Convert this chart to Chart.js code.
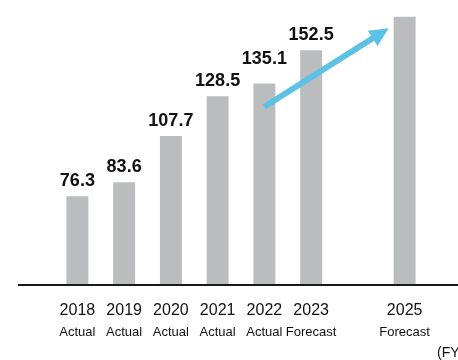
<!DOCTYPE html>
<html>
<head>
<meta charset="utf-8">
<script src="https://cdn.jsdelivr.net/npm/chart.js@4.4.1/dist/chart.umd.min.js"></script>
<style>
  html, body { margin: 0; padding: 0; background: #fff; overflow: hidden; }
  #wrap { width: 458px; height: 360px; position: relative; }
</style>
</head>
<body>
<div id="wrap"><canvas id="c"></canvas></div>
<script>
// ---- data ----
const years    = ['2018', '2019', '2020', '2021', '2022', '2023', '', '2025'];
const statuses = ['Actual', 'Actual', 'Actual', 'Actual', 'Actual', 'Forecast', '', 'Forecast'];
const values   = [76.3, 83.6, 107.7, 128.5, 135.1, 152.5, null, 170];
const showValueLabel = [true, true, true, true, true, true, false, false];
const unitLabel = '(FY)';
// arrow annotation in data space (category index, value)
const arrowStart = [4, 123];
const arrowEnd   = [6.66, 164];

const BAR = '#bbbcbe';
const ARROW = '#5bc2e6';
const INK = '#111111';
const FONT = '"Liberation Sans", Arial, sans-serif';

const overlay = {
  id: 'overlay',
  afterDatasetsDraw(chart) {
    const ctx = chart.ctx;
    const xs = chart.scales.x, ys = chart.scales.y;
    const meta = chart.getDatasetMeta(0);
    // baseline
    const by = ys.getPixelForValue(ys.min);
    ctx.save();
    ctx.strokeStyle = '#1a1a1a';
    ctx.lineWidth = 2;
    ctx.beginPath();
    ctx.moveTo(18, by);
    ctx.lineTo(chart.width, by);
    ctx.stroke();

    // value labels
    ctx.fillStyle = INK;
    ctx.font = 'bold 18px ' + FONT;
    ctx.textAlign = 'center';
    ctx.textBaseline = 'alphabetic';
    meta.data.forEach((bar, i) => {
      if (!showValueLabel[i] || values[i] == null) return;
      const lift = (i === 4) ? 20 : 10;
      ctx.fillText(values[i].toFixed(1), bar.x, bar.y - lift);
    });

    // arrow
    const x1 = xs.getPixelForValue(arrowStart[0]), y1 = ys.getPixelForValue(arrowStart[1]);
    const x2 = xs.getPixelForValue(arrowEnd[0]),   y2 = ys.getPixelForValue(arrowEnd[1]);
    const ang = Math.atan2(y2 - y1, x2 - x1);
    const headLen = 19, headW = 9;
    const bx = x2 - headLen * Math.cos(ang), byy = y2 - headLen * Math.sin(ang);
    ctx.strokeStyle = ARROW;
    ctx.fillStyle = ARROW;
    ctx.lineWidth = 6;
    ctx.lineCap = 'butt';
    ctx.beginPath();
    ctx.moveTo(x1, y1);
    ctx.lineTo(bx + 2 * Math.cos(ang), byy + 2 * Math.sin(ang));
    ctx.stroke();
    ctx.beginPath();
    ctx.moveTo(x2, y2);
    ctx.lineTo(bx - headW * Math.sin(ang), byy + headW * Math.cos(ang));
    ctx.lineTo(bx + headW * Math.sin(ang), byy - headW * Math.cos(ang));
    ctx.closePath();
    ctx.fill();

    // unit label
    ctx.fillStyle = INK;
    ctx.font = '14px ' + FONT;
    ctx.textAlign = 'left';
    ctx.textBaseline = 'middle';
    ctx.fillText(unitLabel, 437, 353);
    ctx.restore();
  }
};

new Chart(document.getElementById('c'), {
  type: 'bar',
  data: {
    labels: years,
    datasets: [{
      data: values,
      backgroundColor: BAR,
      borderWidth: 0,
      categoryPercentage: 1,
      barPercentage: 0.47
    }]
  },
  options: {
    responsive: true,
    maintainAspectRatio: false,
    animation: false,
    events: [],
    layout: { padding: { left: 54, right: 30, top: 0, bottom: 15 } },
    plugins: { legend: { display: false }, tooltip: { enabled: false } },
    scales: {
      y: { display: false, min: 30, max: 178.7 },
      x: {
        grid: { display: false, drawTicks: false },
        border: { display: false },
        afterFit(scale) { scale.height = 34; },
        ticks: {
          color: INK,
          padding: 16,
          maxRotation: 0,
          autoSkip: false,
          font: { family: FONT, size: 16 }
        }
      },
      x2: {
        type: 'category',
        position: 'bottom',
        labels: statuses,
        offset: true,
        grid: { display: false, drawTicks: false },
        border: { display: false },
        afterFit(scale) { scale.height = 26; },
        ticks: {
          color: INK,
          padding: 6,
          maxRotation: 0,
          autoSkip: false,
          font: { family: FONT, size: 13 }
        }
      }
    }
  },
  plugins: [overlay]
});
</script>
</body>
</html>
